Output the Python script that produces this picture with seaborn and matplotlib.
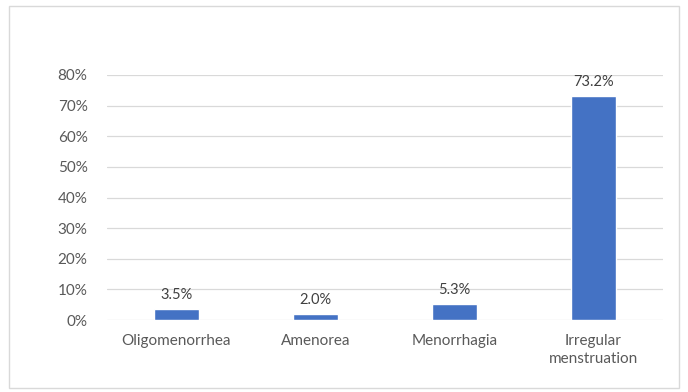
import matplotlib
matplotlib.use("Agg")
import matplotlib.pyplot as plt
import seaborn as sns
import pandas as pd
from matplotlib.patches import Rectangle
from matplotlib.ticker import FuncFormatter

categories = ["Oligomenorrhea", "Amenorea", "Menorrhagia", "Irregular\nmenstruation"]
values = [0.035, 0.020, 0.053, 0.732]
labels = ["3.5%", "2.0%", "5.3%", "73.2%"]
yticks = [0, 0.1, 0.2, 0.3, 0.4, 0.5, 0.6, 0.7, 0.8]

sns.set_theme(style="white")
plt.rcParams['font.family'] = ['Lato', 'DejaVu Sans']

df = pd.DataFrame({"cat": categories, "val": values})

fig = plt.figure(figsize=(6.88, 3.92), dpi=100)
ax = fig.add_axes([107/688, 1-320/392, (663-107)/688, (320-75)/392])

sns.barplot(data=df, x="cat", y="val", color="#4472C4", width=0.32, ax=ax, saturation=1)

ax.set_ylim(0, 0.8)
ax.set_yticks(yticks)
ax.yaxis.set_major_formatter(FuncFormatter(lambda v, p: f"{v*100:.0f}%"))
ax.grid(axis="y", color="#D9D9D9", linewidth=0.9)
ax.set_axisbelow(True)
for s in ax.spines.values():
    s.set_visible(False)
ax.set_xlabel("")
ax.set_ylabel("")
ax.tick_params(axis="both", length=0, labelsize=11, colors="#595959")
ax.tick_params(axis="y", pad=14)
ax.tick_params(axis="x", pad=10)
for t in ax.get_xticklabels():
    t.set_linespacing(1.35)

for p, lab in zip(ax.patches, labels):
    ax.annotate(lab, (p.get_x() + p.get_width()/2, p.get_height()),
                xytext=(0, 5), textcoords="offset points",
                ha="center", va="bottom", fontsize=10.5, color="#404040")

fig.patches.append(Rectangle((9/688, 4/392), 670/688, 382/392, transform=fig.transFigure,
                             fill=False, edgecolor="#D9D9D9", linewidth=1))

fig.savefig("out.png", dpi=100)
